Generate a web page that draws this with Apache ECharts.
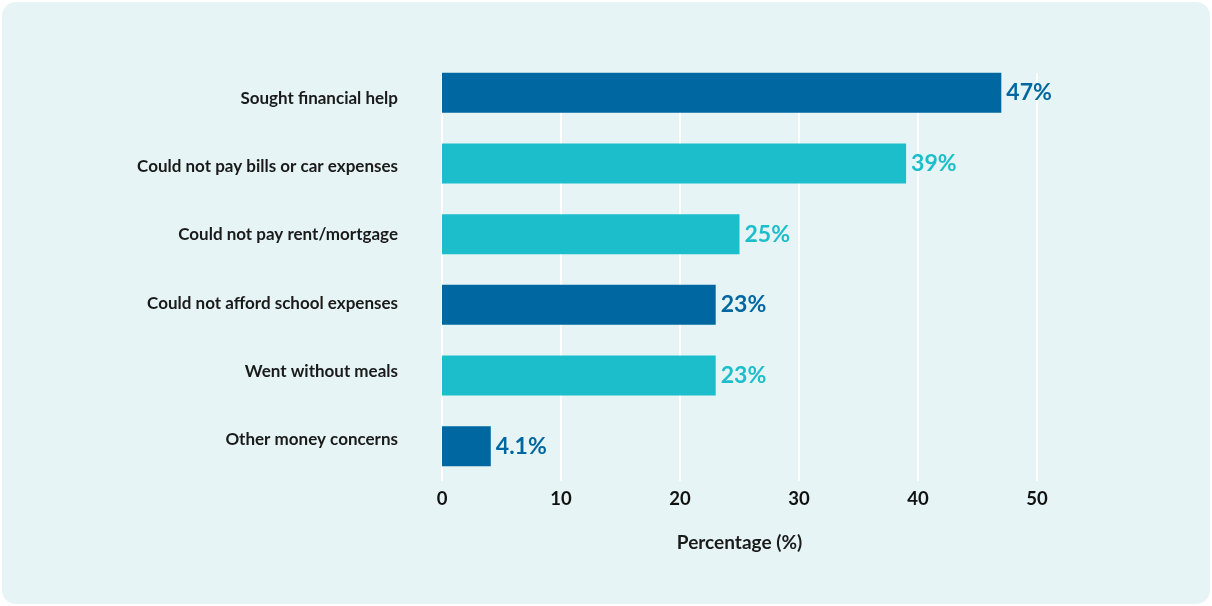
<!DOCTYPE html>
<html>
<head>
<meta charset="utf-8">
<script src="https://cdn.jsdelivr.net/npm/echarts@6/dist/echarts.min.js"></script>
<style>
  html, body { margin: 0; padding: 0; background: #ffffff; }
  #chart { width: 1212px; height: 606px; }
</style>
</head>
<body>
<div id="chart"></div>
<script>
// Reported financial hardships, share of respondents
const categories = [
  'Sought financial help',
  'Could not pay bills or car expenses',
  'Could not pay rent/mortgage',
  'Could not afford school expenses',
  'Went without meals',
  'Other money concerns'
];
const values = [47, 39, 25, 23, 23, 4.1];
const valueLabels = ['47%', '39%', '25%', '23%', '23%', '4.1%'];
const barColors = ['#0067a0', '#1bbeca', '#1bbeca', '#0067a0', '#1bbeca', '#0067a0'];
const xTicks = [0, 10, 20, 30, 40, 50];

const FONT = 'Lato, "Open Sans", sans-serif';
const LEFT = 442;
const RIGHT = 1212 - 1037;

const chart = echarts.init(document.getElementById('chart'), null, { renderer: 'canvas' });

chart.setOption({
  backgroundColor: 'transparent',
  animation: false,
  graphic: [{
    type: 'rect',
    z: -10,
    shape: { x: 2, y: 2, width: 1208, height: 602, r: 14 },
    style: { fill: '#e6f4f5' }
  }],
  grid: [
    // value axis with gridlines and ticks
    { left: LEFT, right: RIGHT, top: 73, height: 408 },
    // bars
    { left: LEFT, right: RIGHT, top: 57.5, height: 424 },
    // category labels
    { left: LEFT, right: RIGHT, top: 64, height: 410 }
  ],
  xAxis: [
    {
      gridIndex: 0,
      type: 'value',
      min: xTicks[0],
      max: xTicks[xTicks.length - 1],
      interval: 10,
      axisLine: { show: false },
      axisTick: { show: false },
      splitLine: { show: true, lineStyle: { color: '#ffffff', width: 2 } },
      axisLabel: {
        margin: 9,
        color: '#111111',
        fontFamily: FONT,
        fontWeight: 'bold',
        fontSize: 18.5
      },
      name: 'Percentage (%)',
      nameLocation: 'middle',
      nameGap: 52,
      nameTextStyle: {
        color: '#1a1a1a',
        fontFamily: FONT,
        fontWeight: 'bold',
        fontSize: 19
      }
    },
    { gridIndex: 1, type: 'value', min: 0, max: 50, show: false },
    { gridIndex: 2, type: 'value', min: 0, max: 50, show: false }
  ],
  yAxis: [
    { gridIndex: 0, type: 'category', data: categories, inverse: true, show: false },
    { gridIndex: 1, type: 'category', data: categories, inverse: true, show: false },
    {
      gridIndex: 2,
      type: 'category',
      data: categories,
      inverse: true,
      axisLine: { show: false },
      axisTick: { show: false },
      splitLine: { show: false },
      axisLabel: {
        margin: 44,
        color: '#1a1a1a',
        fontFamily: FONT,
        fontWeight: 'bold',
        fontSize: 17
      }
    }
  ],
  series: [{
    type: 'bar',
    xAxisIndex: 1,
    yAxisIndex: 1,
    barWidth: 40,
    data: values.map((v, i) => ({
      value: v,
      itemStyle: { color: barColors[i] },
      label: { color: barColors[i], formatter: valueLabels[i] }
    })),
    label: {
      show: true,
      position: 'right',
      distance: 5,
      fontFamily: FONT,
      fontWeight: 'bold',
      fontSize: 23
    }
  }]
});
</script>
</body>
</html>
